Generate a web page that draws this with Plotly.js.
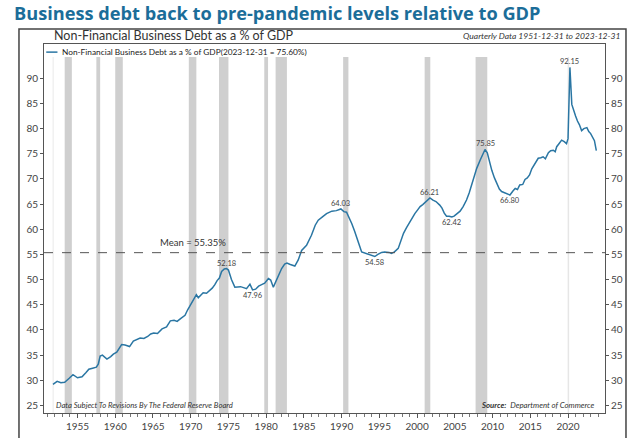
<!DOCTYPE html>
<html>
<head>
<meta charset="utf-8">
<script src="https://cdn.plot.ly/plotly-3.0.1.min.js"></script>
<style>
html,body{margin:0;padding:0;background:#fff;}
#chart{width:640px;height:438px;}
</style>
</head>
<body>
<div id="chart"></div>
<script>
// ---- data ----
const years = [1951.75,1952.3,1952.8,1953.3,1953.9,1954.4,1955.0,1955.6,1956.1,1956.5,1957.0,1957.5,1957.75,1958.0,1958.3,1958.9,1959.4,1959.75,1960.2,1960.5,1960.85,1961.3,1961.9,1962.4,1962.9,1963.3,1963.8,1964.3,1964.7,1965.1,1965.6,1966.2,1966.8,1967.3,1967.8,1968.2,1968.7,1969.25,1969.6,1969.9,1970.35,1970.75,1971.0,1971.4,1971.65,1972.1,1972.5,1972.85,1973.2,1973.5,1973.8,1974.1,1974.45,1974.75,1975.0,1975.4,1975.85,1976.2,1976.6,1977.0,1977.4,1977.85,1978.2,1978.6,1979.0,1979.4,1979.8,1980.3,1980.6,1980.95,1981.3,1981.6,1982.05,1982.45,1982.75,1983.2,1983.8,1984.25,1984.7,1985.35,1986.0,1986.5,1986.9,1987.5,1988.0,1988.7,1989.3,1989.9,1990.3,1990.65,1991.0,1991.35,1991.7,1992.0,1992.35,1992.65,1993.0,1993.3,1993.7,1994.0,1994.4,1994.8,1995.3,1995.7,1996.0,1996.3,1996.6,1997.0,1997.5,1997.85,1998.2,1998.6,1999.05,1999.4,1999.7,2000.1,2000.4,2000.75,2001.05,2001.4,2001.7,2002.1,2002.5,2003.0,2003.3,2003.6,2003.9,2004.25,2004.6,2004.9,2005.25,2005.7,2006.1,2006.55,2006.9,2007.25,2007.6,2007.9,2008.35,2008.7,2009.0,2009.3,2009.6,2009.9,2010.25,2010.55,2010.9,2011.2,2011.6,2011.9,2012.3,2012.7,2013.0,2013.3,2013.6,2014.0,2014.3,2014.6,2014.9,2015.2,2015.6,2016.05,2016.4,2016.7,2017.0,2017.4,2017.7,2018.05,2018.3,2018.5,2018.8,2019.15,2019.5,2019.8,2020.0,2020.25,2020.5,2020.75,2021.0,2021.25,2021.5,2021.8,2022.1,2022.5,2022.75,2023.0,2023.25,2023.5,2023.75];
const debtPct = [29.2,29.8,29.5,29.6,30.4,31.1,30.5,30.7,31.5,32.2,32.4,32.6,33.2,34.8,35.0,34.2,34.7,35.2,35.6,36.2,37.1,37.0,36.7,37.8,38.2,38.4,38.3,38.7,39.2,39.4,39.3,40.2,40.6,41.8,41.9,41.7,42.3,42.9,44.0,44.8,45.9,47.0,46.4,47.0,47.4,47.3,47.8,48.3,49.0,49.8,50.3,51.6,52.1,52.18,51.9,50.0,48.5,48.5,48.6,48.4,48.2,49.1,47.96,48.1,48.7,49.0,49.3,50.2,49.9,48.5,49.6,50.7,52.2,53.1,53.3,53.0,52.7,53.9,55.8,56.8,58.8,60.8,61.8,62.5,63.1,63.6,63.7,64.03,63.5,63.4,62.4,61.1,59.7,58.2,56.8,55.5,55.3,55.2,55.0,54.8,54.58,55.0,55.4,55.5,55.5,55.4,55.2,55.5,56.2,57.8,59.2,60.3,61.5,62.4,63.1,63.9,64.5,64.9,65.3,65.8,66.21,65.8,65.5,64.8,64.2,63.2,62.6,62.6,62.42,62.6,63.0,63.6,64.5,65.8,67.2,69.1,70.8,72.1,73.7,74.8,75.85,75.2,73.4,71.7,70.2,69.1,68.0,67.5,67.3,67.1,66.8,67.6,68.1,67.9,68.8,68.9,69.9,70.2,70.8,72.0,73.0,74.1,74.2,74.4,74.0,75.2,75.6,75.7,75.4,76.4,77.0,77.7,77.4,77.0,78.0,92.15,84.8,83.5,82.5,81.5,80.8,79.6,80.0,80.2,79.4,79.0,78.2,77.6,75.6];
const meanVal = 55.35;
const lblYears = [1974.75,1978.2,1989.9,1994.4,2001.7,2004.6,2009.0,2012.3,2020.25];
const lblVals  = [52.18,47.96,64.03,54.58,66.21,62.42,75.85,66.80,92.15];
const lblAbove = [true,false,true,false,true,false,true,false,true];
const recStart = [1953.3,1957.5,1960.0,1969.75,1973.75,1979.75,1981.25,1990.2,2001.0,2007.75];
const recEnd   = [1954.25,1958.0,1961.0,1970.75,1975.0,1980.25,1982.75,1990.9,2001.75,2009.3];
const covidStart = 2019.95, covidEnd = 2020.15;
const xTickVals = [1955,1960,1965,1970,1975,1980,1985,1990,1995,2000,2005,2010,2015,2020];
const yTickVals = [25,30,35,40,45,50,55,60,65,70,75,80,85,90];

const lineColor = '#2a76a3';
const yRange = [23.5, 96.8];
const barTop = 94.2;

const shapes = [];
for (let i = 0; i < recStart.length; i++) {
  shapes.push({type:'rect', xref:'x', yref:'y', x0:recStart[i], x1:recEnd[i], y0:yRange[0], y1:barTop,
    fillcolor:'#cfcfcf', line:{width:0}, layer:'below'});
}
shapes.push({type:'rect', xref:'x', yref:'y', x0:covidStart, x1:covidEnd, y0:yRange[0], y1:barTop,
  fillcolor:'#e6e6e6', line:{width:0}, layer:'below'});
shapes.push({type:'rect', xref:'x', yref:'y', x0:years[0]-0.05, x1:years[0]+0.1, y0:yRange[0], y1:barTop,
  fillcolor:'#ececec', line:{width:0}, layer:'below'});
// mean line
shapes.push({type:'line', xref:'paper', yref:'y', x0:0, x1:1, y0:meanVal, y1:meanVal,
  line:{color:'#555', width:1, dash:'dash'}});
// outer frame
shapes.push({type:'rect', xref:'paper', yref:'paper', x0:-0.0446, x1:1.0374, y0:-0.2, y1:1.0407,
  line:{color:'#444', width:1.5}, fillcolor:'rgba(0,0,0,0)'});
// legend sample line
shapes.push({type:'line', xref:'paper', yref:'paper', x0:0.004, x1:0.024, y0:0.978, y1:0.978,
  line:{color:lineColor, width:1.5}});

const annotations = [];
for (let i = 0; i < lblVals.length; i++) {
  annotations.push({x:lblYears[i], y:lblVals[i], xref:'x', yref:'y', text:lblVals[i].toFixed(2),
    showarrow:false, font:{family:'Lato, sans-serif', size:7.5, color:'#444'},
    yanchor: lblAbove[i] ? 'bottom' : 'top', yshift: lblAbove[i] ? -1 : 1});
}
annotations.push({xref:'x', yref:'y', x:1965.6, y:meanVal, text:'Mean = 55.35%', showarrow:false,
  xanchor:'left', yanchor:'bottom', yshift:3, font:{family:'Lato, sans-serif', size:9.5, color:'#333'}});
annotations.push({xref:'paper', yref:'paper', x:0.028, y:0.978, text:'Non-Financial Business Debt as a % of GDP(2023-12-31 = 75.60%)',
  showarrow:false, xanchor:'left', yanchor:'middle', font:{family:'Lato, sans-serif', size:8.3, color:'#222'}});
annotations.push({xref:'paper', yref:'paper', x:1.03, y:1.022, text:'<i>Quarterly Data 1951-12-31 to 2023-12-31</i>',
  showarrow:false, xanchor:'right', yanchor:'middle', font:{family:'Lato, sans-serif', size:8.5, color:'#333'}});
annotations.push({xref:'paper', yref:'paper', x:0.016, y:1.023, text:'Non-Financial Business Debt as a % of GDP',
  showarrow:false, xanchor:'left', yanchor:'middle', borderpad:0, font:{family:'Lato, sans-serif', size:12.5, color:'#333'}});
annotations.push({xref:'paper', yref:'paper', x:0.018, y:0.004, text:'<i>Data Subject To Revisions By The Federal Reserve Board</i>',
  showarrow:false, xanchor:'left', yanchor:'bottom', font:{family:'Lato, sans-serif', size:7.7, color:'#333'}});
annotations.push({xref:'paper', yref:'paper', x:0.985, y:0.004, text:'<b><i>Source:</i></b>  <i>Department of Commerce</i>',
  showarrow:false, xanchor:'right', yanchor:'bottom', font:{family:'Lato, sans-serif', size:7.8, color:'#333'}});

const traces = [
  {x:years, y:debtPct, type:'scatter', mode:'lines', line:{color:lineColor, width:1.5}, showlegend:false,
   name:'Debt/GDP', hoverinfo:'x+y'},
  {x:[years[0]], y:[debtPct[0]], yaxis:'y2', type:'scatter', mode:'markers', marker:{opacity:0}, showlegend:false, hoverinfo:'skip'}
];

const tickFont = {family:'Lato, sans-serif', size:10, color:'#444'};
const layout = {
  width:640, height:438,
  margin:{l:44, r:35, t:44, b:25},
  paper_bgcolor:'#fff', plot_bgcolor:'#fff',
  title:{text:'<b>Business debt back to pre-pandemic levels relative to GDP</b>', xref:'container', yref:'container',
    x:0.022, xanchor:'left', y:0.968, yanchor:'middle', font:{family:'Open Sans, sans-serif', size:18.2, color:'#1b6d99'}},
  xaxis:{range:[1950.56, 2024.9], tickmode:'array', tickvals:xTickVals, ticks:'outside', ticklen:4, tickcolor:'#555',
    showgrid:false, zeroline:false, showline:true, linecolor:'#555', linewidth:1, mirror:true, tickfont:tickFont,
    minor:{dtick:1, tick0:1950, ticks:'outside', ticklen:2.5, tickcolor:'#777', showgrid:false}},
  yaxis:{range:yRange, tickmode:'array', tickvals:yTickVals, ticks:'outside', ticklen:3, tickcolor:'#555',
    showgrid:false, zeroline:false, showline:true, linecolor:'#555', linewidth:1, tickfont:tickFont},
  yaxis2:{range:yRange, overlaying:'y', side:'right', tickmode:'array', tickvals:yTickVals, ticks:'outside', ticklen:3,
    tickcolor:'#555', showgrid:false, zeroline:false, showline:true, linecolor:'#555', linewidth:1, tickfont:tickFont},
  shapes:shapes, annotations:annotations, showlegend:false
};
Plotly.newPlot('chart', traces, layout, {displayModeBar:false, staticPlot:true});
</script>
</body>
</html>
